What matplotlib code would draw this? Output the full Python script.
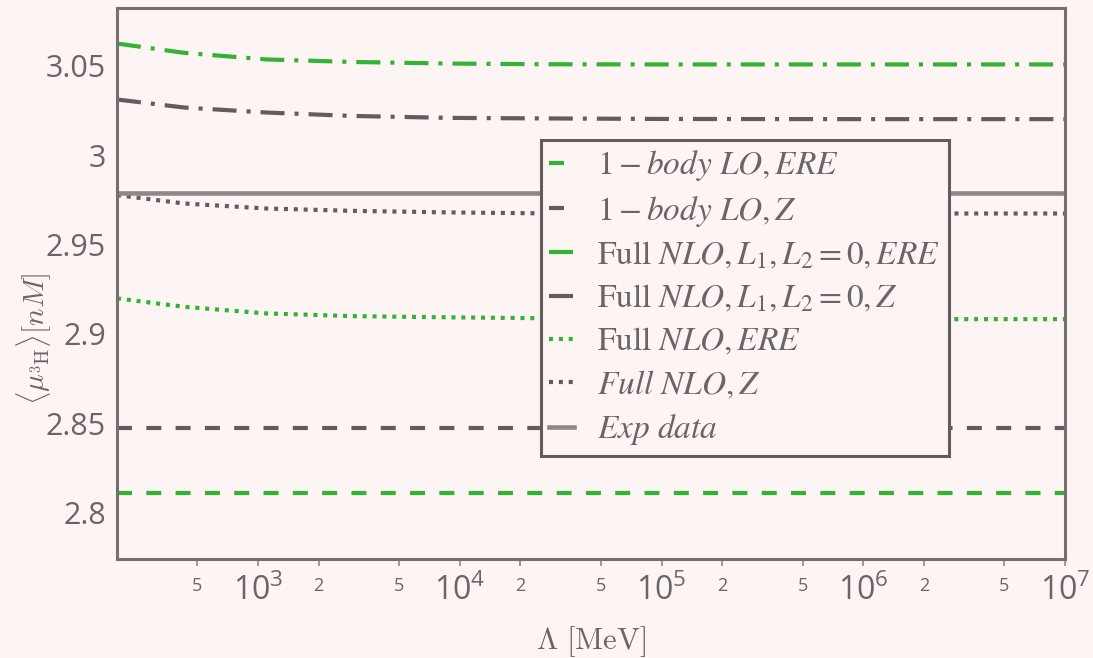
import math
import matplotlib
matplotlib.use("Agg")
import matplotlib.pyplot as plt
from matplotlib.ticker import FixedLocator, FuncFormatter
from matplotlib.font_manager import FontProperties

# Cutoff values (MeV) and magnetic moment of 3H (nuclear magnetons)
cutoff = [200, 430, 1100, 2900, 9000, 26000, 1e5, 1e6, 1e7]

nlo_l0_ere = [3.0624, 3.0572, 3.0535, 3.0521, 3.0512, 3.0508, 3.0507, 3.0507, 3.0507]
nlo_l0_z = [3.0311, 3.0266, 3.0238, 3.0219, 3.0208, 3.0205, 3.0202, 3.0201, 3.0201]
nlo_z = [2.9776, 2.9729, 2.9701, 2.9688, 2.9679, 2.9674, 2.9673, 2.9673, 2.9673]
nlo_ere = [2.9198, 2.9151, 2.9114, 2.9099, 2.9092, 2.9087, 2.9084, 2.9082, 2.9082]
lo_z = [2.8473] * len(cutoff)
lo_ere = [2.8109] * len(cutoff)
exp_value = 2.979

labels = [
    r"$1-body\ LO, ERE$",
    r"$1-body\ LO, Z$",
    r"$\mathrm{Full}\ NLO, L_1, L_2=0, ERE$",
    r"$\mathrm{Full}\ NLO, L_1, L_2=0, Z$",
    r"$\mathrm{Full}\ NLO, ERE$",
    r"$Full\ NLO, Z$",
    r"$Exp\ data$",
]

bg = "#fdf4f4"
green = "#33b233"
dark = "#635c5e"
light = "#8e8889"
txt = "#6a6566"

plt.rcParams["lines.scale_dashes"] = False
plt.rcParams["font.family"] = ["Open Sans", "DejaVu Sans"]
plt.rcParams["mathtext.fontset"] = "custom"
plt.rcParams["mathtext.rm"] = "Open Sans"
plt.rcParams["mathtext.it"] = "Open Sans:italic"
plt.rcParams["mathtext.bf"] = "Open Sans:bold"

fig = plt.figure(figsize=(10.93, 6.58), dpi=100, facecolor=bg)
ax = fig.add_axes([117 / 1093, 1 - 559 / 658, 948 / 1093, 550.5 / 658])
ax.set_facecolor(bg)

lw = 3.0
dashdot = (0, (17.3, 7.2, 2.9, 7.2))
dashed = (0, (10.8, 10.3))
dotted = (0, (2.9, 4.2))

ax.plot(cutoff, lo_ere, color=green, lw=lw, ls=dashed, label=labels[0])
ax.plot(cutoff, lo_z, color=dark, lw=lw, ls=dashed, label=labels[1])
ax.plot(cutoff, nlo_l0_ere, color=green, lw=lw, ls=dashdot, label=labels[2])
ax.plot(cutoff, nlo_l0_z, color=dark, lw=lw, ls=dashdot, label=labels[3])
ax.plot(cutoff, nlo_ere, color=green, lw=lw, ls=dotted, label=labels[4])
ax.plot(cutoff, nlo_z, color=dark, lw=lw, ls=dotted, label=labels[5])
ax.axhline(exp_value, color=light, lw=3.3, label=labels[6])

ax.set_xscale("log")
ax.set_xlim(200, 1e7)
ax.set_ylim(2.774, 3.082)

# x ticks: decades with large labels, 2 and 5 with small labels
ax.xaxis.set_major_locator(FixedLocator([1e3, 1e4, 1e5, 1e6, 1e7]))
ax.xaxis.set_major_formatter(FuncFormatter(
    lambda v, p: r"$\mathregular{10^{%d}}$" % round(math.log10(v))))
minors = [m * 10 ** e for e in range(2, 7) for m in (2, 5) if 200 < m * 10 ** e < 1e7]
ax.xaxis.set_minor_locator(FixedLocator(minors))
ax.xaxis.set_minor_formatter(FuncFormatter(
    lambda v, p: "%d" % round(v / 10 ** math.floor(math.log10(v)))))
ax.tick_params(axis="x", which="major", length=5, width=1.2, color=light,
               labelsize=23, labelcolor=txt, pad=6)
ax.tick_params(axis="x", which="minor", length=5, width=1.2, color=light,
               labelsize=13, labelcolor=txt, pad=8)

ax.set_yticks([2.8, 2.85, 2.9, 2.95, 3.0, 3.05])
ax.set_yticklabels(["2.8", "2.85", "2.9", "2.95", "3", "3.05"])
ax.tick_params(axis="y", length=0, labelsize=22, labelcolor=txt, pad=8)

for s in ax.spines.values():
    s.set_color("#756f70")
    s.set_linewidth(2.2)

ax.set_xlabel(r"$\Lambda\ [\mathrm{MeV}]$", fontsize=22, color=txt, math_fontfamily="cm")
ax.xaxis.set_label_coords(0.5, -0.118)
ax.set_ylabel(r"$\langle\mu_{^3\mathrm{H}}\rangle[nM]$", fontsize=21, color=txt,
              math_fontfamily="cm")
ax.yaxis.set_label_coords(-0.066, 0.4)

leg = ax.legend(loc="upper left", bbox_to_anchor=(0.447, 0.761), borderaxespad=0,
                prop=FontProperties(size=24, math_fontfamily="stix"),
                handlelength=0.75, handletextpad=0.7, borderpad=0.25,
                labelspacing=0.31, frameon=True, fancybox=False)
leg.get_frame().set_facecolor(bg)
leg.get_frame().set_edgecolor("#635c5e")
leg.get_frame().set_linewidth(2.2)
leg.get_frame().set_alpha(1)
for t in leg.get_texts():
    t.set_color(txt)

fig.savefig("out.png", dpi=100, facecolor=bg)
